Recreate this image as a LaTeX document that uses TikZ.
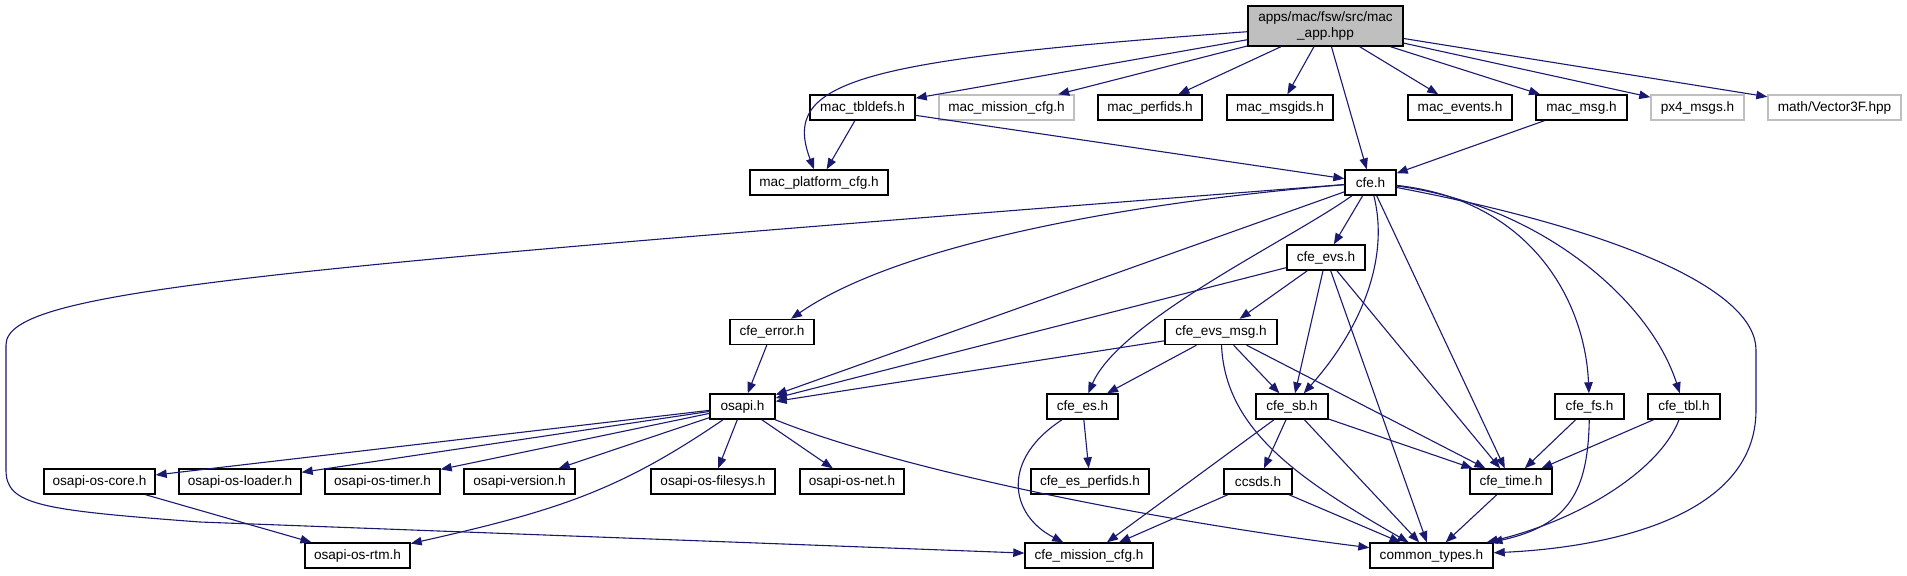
\documentclass[tikz,border=0pt]{standalone}
\usepackage{fontspec}
\setmainfont{Liberation Sans}
\usetikzlibrary{arrows.meta}
\definecolor{edgeblue}{HTML}{191970}
\definecolor{boxgray}{HTML}{BFBFBF}
\begin{document}
\begin{tikzpicture}[
  x=0.5pt,y=-0.5pt,
  file/.style={draw=black,fill=white,line width=0.7pt,minimum height=12.5pt,minimum width=#1,inner sep=0pt,font=\fontsize{6.8}{7.7}\selectfont},
  extfile/.style={file=#1,draw=boxgray},
  topfile/.style={file=#1,fill=boxgray,minimum height=20pt,align=center},
  arrow/.style={-{Triangle[length=5.5pt,width=4.2pt]},draw=edgeblue,line width=0.55pt}
]
\useasboundingbox (0,0) rectangle (1907,575);

\node[topfile=77.5pt] (app) at (1325.5,26) {apps/mac/fsw/src/mac\\\_app.hpp};

\node[file=52.5pt] (tbldefs) at (862.5,107.5) {mac\_tbldefs.h};
\node[extfile=67.5pt] (macmission) at (1006.5,107.5) {mac\_mission\_cfg.h};
\node[file=52pt] (perfids) at (1150,107.5) {mac\_perfids.h};
\node[file=53pt] (msgids) at (1280,107.5) {mac\_msgids.h};
\node[file=52pt] (events) at (1460,107.5) {mac\_events.h};
\node[file=45.5pt] (macmsg) at (1581.5,107.5) {mac\_msg.h};
\node[extfile=46.5pt] (px4) at (1697.5,107.5) {px4\_msgs.h};
\node[extfile=66.5pt] (vector) at (1834.5,107.5) {math/Vector3F.hpp};

\node[file=69pt] (platform) at (819,182.5) {mac\_platform\_cfg.h};
\node[file=25.5pt] (cfe) at (1370.5,182.5) {cfe.h};
\node[file=39pt] (evs) at (1326,257.5) {cfe\_evs.h};
\node[file=42pt] (error) at (772,332) {cfe\_error.h};
\node[file=56pt] (evsmsg) at (1221,332) {cfe\_evs\_msg.h};

\node[file=32.5pt] (osapi) at (742.5,406.5) {osapi.h};
\node[file=35.5pt] (es) at (1082.5,406.5) {cfe\_es.h};
\node[file=36pt] (sb) at (1292,406.5) {cfe\_sb.h};
\node[file=34.5pt] (fs) at (1589.5,406.5) {cfe\_fs.h};
\node[file=36pt] (tbl) at (1684,406.5) {cfe\_tbl.h};

\node[file=55.5pt] (oscore) at (99.5,481.5) {osapi-os-core.h};
\node[file=61pt] (osloader) at (240,481.5) {osapi-os-loader.h};
\node[file=57.5pt] (ostimer) at (382.5,481.5) {osapi-os-timer.h};
\node[file=55.5pt] (osversion) at (519.5,481.5) {osapi-version.h};
\node[file=62pt] (osfilesys) at (713,481.5) {osapi-os-filesys.h};
\node[file=52pt] (osnet) at (852,481.5) {osapi-os-net.h};
\node[file=59pt] (esperfids) at (1090,481.5) {cfe\_es\_perfids.h};
\node[file=34pt] (ccsds) at (1258,481.5) {ccsds.h};
\node[file=41pt] (time) at (1511,481.5) {cfe\_time.h};

\node[file=52.5pt] (osrtm) at (357.5,555.5) {osapi-os-rtm.h};
\node[file=64pt] (cfemission) at (1089,555.5) {cfe\_mission\_cfg.h};
\node[file=61.5pt] (common) at (1431.5,555.5) {common\_types.h};

\draw[arrow] (app) .. controls (860,60) and (780,80) .. (platform);
\draw[arrow] (app) -- (tbldefs);
\draw[arrow] (app) -- (macmission);
\draw[arrow] (app) -- (perfids);
\draw[arrow] (app) -- (msgids);
\draw[arrow] (app) -- (cfe);
\draw[arrow] (app) -- (events);
\draw[arrow] (app) -- (macmsg);
\draw[arrow] (app) -- (px4);
\draw[arrow] (app) -- (vector);

\draw[arrow] (tbldefs) -- (platform);
\draw[arrow] (tbldefs) -- (cfe);
\draw[arrow] (macmsg) -- (cfe);

\draw[arrow] (cfe) .. controls (250,270) and (6,290) .. (6,345) -- (6,470) .. controls (6,505) and (40,510) .. (200,522) -- (cfemission);
\draw[arrow] (cfe) .. controls (1100,205) and (890,250) .. (error);
\draw[arrow] (cfe) -- (osapi);
\draw[arrow] (cfe) .. controls (1290,240) and (1120,320) .. (es);
\draw[arrow] (cfe) -- (evs);
\draw[arrow] (cfe) .. controls (1390,260) and (1360,330) .. (sb);
\draw[arrow] (cfe) -- (time);
\draw[arrow] (cfe) .. controls (1530,200) and (1585,300) .. (fs);
\draw[arrow] (cfe) .. controls (1540,205) and (1650,300) .. (tbl);
\draw[arrow] (cfe) .. controls (1620,230) and (1756,290) .. (1756,350) -- (1756,410) .. controls (1756,520) and (1600,548) .. (common);

\draw[arrow] (evs) -- (osapi);
\draw[arrow] (evs) -- (evsmsg);
\draw[arrow] (evs) -- (sb);
\draw[arrow] (evs) -- (common);
\draw[arrow] (evs) -- (time);

\draw[arrow] (evsmsg) -- (osapi);
\draw[arrow] (evsmsg) -- (es);
\draw[arrow] (evsmsg) -- (sb);
\draw[arrow] (evsmsg) .. controls (1225,430) and (1300,480) .. (common);
\draw[arrow] (evsmsg) -- (time);

\draw[arrow] (error) -- (osapi);

\draw[arrow] (osapi) -- (oscore);
\draw[arrow] (osapi) -- (osloader);
\draw[arrow] (osapi) -- (ostimer);
\draw[arrow] (osapi) -- (osversion);
\draw[arrow] (osapi) .. controls (620,490) and (560,510) .. (osrtm);
\draw[arrow] (osapi) -- (osfilesys);
\draw[arrow] (osapi) -- (osnet);
\draw[arrow] (osapi) .. controls (900,470) and (1150,520) .. (common);
\draw[arrow] (oscore) -- (osrtm);

\draw[arrow] (es) -- (esperfids);
\draw[arrow] (es) .. controls (1000,460) and (1010,515) .. (cfemission);

\draw[arrow] (sb) -- (ccsds);
\draw[arrow] (sb) -- (cfemission);
\draw[arrow] (sb) -- (common);
\draw[arrow] (sb) -- (time);
\draw[arrow] (ccsds) -- (cfemission);
\draw[arrow] (ccsds) -- (common);

\draw[arrow] (fs) -- (time);
\draw[arrow] (fs) .. controls (1588,490) and (1570,525) .. (common);
\draw[arrow] (tbl) -- (time);
\draw[arrow] (tbl) .. controls (1660,470) and (1580,520) .. (common);
\draw[arrow] (time) -- (common);
\end{tikzpicture}
\end{document}
